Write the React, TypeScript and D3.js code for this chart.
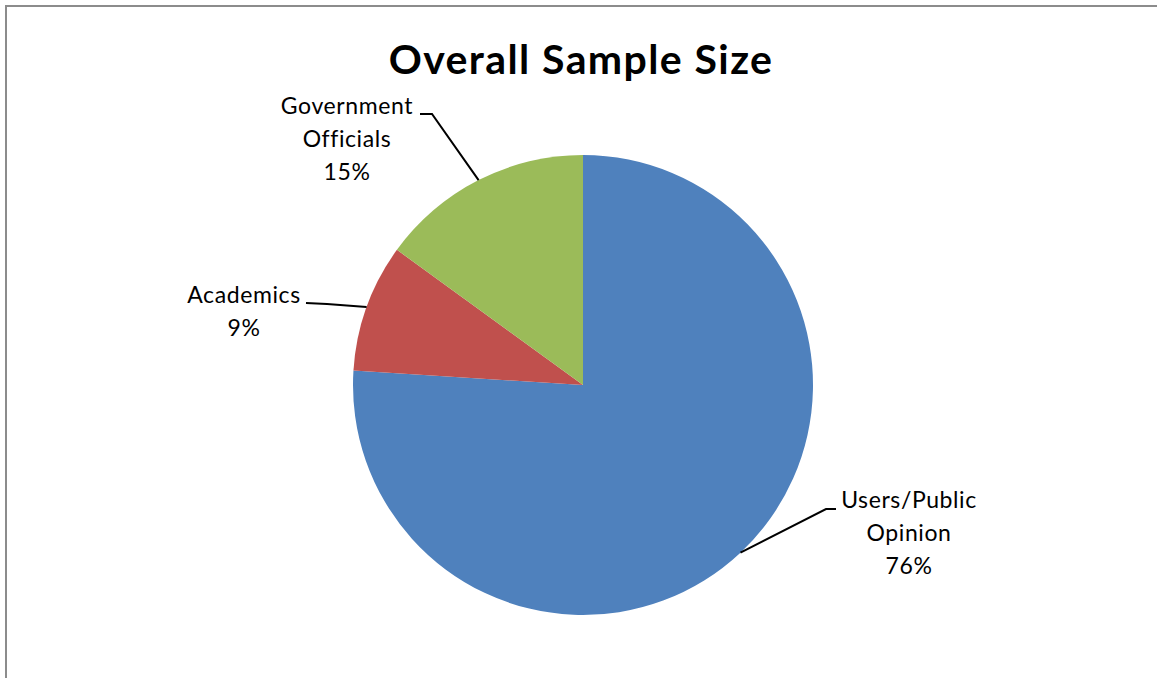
import React from "react";
import * as d3 from "d3";

const categories = ["Users/Public Opinion", "Academics", "Government Officials"];
const labelLines = [["Users/Public", "Opinion"], ["Academics"], ["Government", "Officials"]];
const values = [76, 9, 15];
const colors = ["#4F81BD", "#C0504D", "#9BBB59"];

// layout: label text center x, first baseline y, elbow point for leader
const labelLayout = [
  { cx: 909, y0: 508, elbow: [826, 509], end: [836, 509] },
  { cx: 244, y0: 303, elbow: [327, 304], end: [306, 303] },
  { cx: 347, y0: 114, elbow: [432, 114], end: [420, 114] },
];

const W = 1157, H = 678;
const cx = 583, cy = 385, R = 230;

export default function App() {
  const pie = d3.pie<number>().sort(null).value((d) => d).startAngle(0).endAngle(2 * Math.PI);
  const arcs = pie(values);
  const arc = d3.arc<d3.PieArcDatum<number>>().innerRadius(0).outerRadius(R);
  const total = d3.sum(values);
  const fmt = d3.format(".0%");
  const font = "Lato, 'Open Sans', sans-serif";
  const lineH = 33;
  return (
    <svg width={W} height={H} style={{ position: "absolute", left: 0, top: 0, background: "#fff" }}>
      <rect x={6} y={6} width={W + 20} height={H + 20} fill="#fff" stroke="#8c8c8c" strokeWidth={2} />
      <text x={581} y={74} textAnchor="middle" fontFamily={font} fontWeight="bold" fontSize={41} letterSpacing={1.4} fill="#000">
        Overall Sample Size
      </text>
      <g transform={`translate(${cx},${cy})`}>
        {arcs.map((a, i) => (
          <path key={categories[i]} d={arc(a) || ""} fill={colors[i]} />
        ))}
      </g>
      {arcs.map((a, i) => {
        const mid = (a.startAngle + a.endAngle) / 2;
        const px = cx + R * Math.sin(mid);
        const py = cy - R * Math.cos(mid);
        const L = labelLayout[i];
        const lines = [...labelLines[i], fmt(values[i] / total)];
        return (
          <g key={"l" + i}>
            <polyline
              points={`${L.end[0]},${L.end[1]} ${L.elbow[0]},${L.elbow[1]} ${px},${py}`}
              fill="none"
              stroke="#000"
              strokeWidth={2}
            />
            {lines.map((t, j) => (
              <text key={j} x={L.cx} y={L.y0 + j * lineH} textAnchor="middle" fontFamily={font} fontSize={23} letterSpacing={0.6} fill="#000">
                {t}
              </text>
            ))}
          </g>
        );
      })}
    </svg>
  );
}
